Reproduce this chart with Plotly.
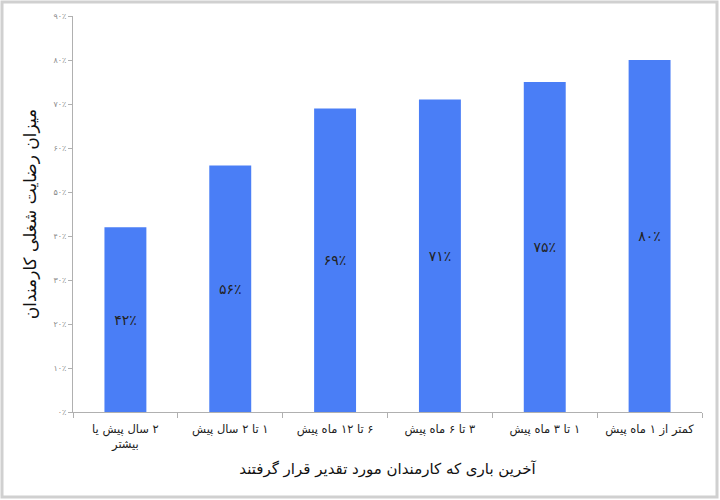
import plotly.graph_objects as go

RLM = "\u200f"

categories = ["۲ سال پیش یا<br>بیشتر", "۱ تا ۲ سال پیش", "۶ تا ۱۲ ماه پیش",
              "۳ تا ۶ ماه پیش", "۱ تا ۳ ماه پیش", "کمتر از ۱ ماه پیش"]
values = [0.42, 0.56, 0.69, 0.71, 0.75, 0.80]
bar_labels = ["۴۲٪", "۵۶٪", "۶۹٪", "۷۱٪", "۷۵٪", "۸۰٪"]
tick_vals = [0, 0.1, 0.2, 0.3, 0.4, 0.5, 0.6, 0.7, 0.8, 0.9]
tick_text = ["۰٪", "۱۰٪", "۲۰٪", "۳۰٪", "۴۰٪", "۵۰٪", "۶۰٪", "۷۰٪", "۸۰٪", "۹۰٪"]

font = "DejaVu Sans, Noto Sans, sans-serif"

# right-to-left mark so digits at the start stay on the right
cat_text = ["<br>".join(RLM + part for part in c.split("<br>")) for c in categories]

fig = go.Figure(go.Bar(
    x=cat_text, y=values,
    marker=dict(color="#4a7ef6", line=dict(width=0)),
    width=0.4,
    text=bar_labels,
    textposition="inside",
    insidetextanchor="middle",
    textfont=dict(color="#222222", size=14, family=font),
    textangle=0,
    hoverinfo="skip",
))

fig.update_layout(
    width=720, height=500,
    margin=dict(l=73, r=18, t=16, b=88),
    paper_bgcolor="white", plot_bgcolor="white",
    showlegend=False,
    font=dict(family=font),
    xaxis=dict(
        showline=True, linecolor="#b0b0b0", linewidth=1,
        ticks="outside", tickcolor="#b0b0b0", ticklen=5,
        tickson="boundaries",
        ticklabelstandoff=6,
        tickfont=dict(size=11.5, color="#222222"),
        title=dict(text=RLM + "آخرین باری که کارمندان مورد تقدیر قرار گرفتند",
                   font=dict(size=15, color="#111111"), standoff=12),
    ),
    yaxis=dict(
        range=[0, 0.9],
        tickvals=tick_vals, ticktext=tick_text,
        showline=True, linecolor="#b0b0b0", linewidth=1,
        ticks="outside", tickcolor="#b0b0b0", ticklen=4,
        showgrid=False, zeroline=False,
        tickfont=dict(size=8, color="#8a8a8a"),
        title=dict(text="میزان رضایت شغلی کارمندان",
                   font=dict(size=17, color="#111111"), standoff=12),
    ),
)

# light gray frame around the whole picture
fig.add_shape(type="rect", xref="paper", yref="paper",
              x0=(2 - 73) / 629, x1=(717 - 73) / 629,
              y0=(412 - 497) / 396, y1=(412 - 2) / 396,
              line=dict(color="#d0d0d0", width=3))

fig.write_html("out.html", config={"displayModeBar": False},
               post_script="document.body.style.margin='0';")
